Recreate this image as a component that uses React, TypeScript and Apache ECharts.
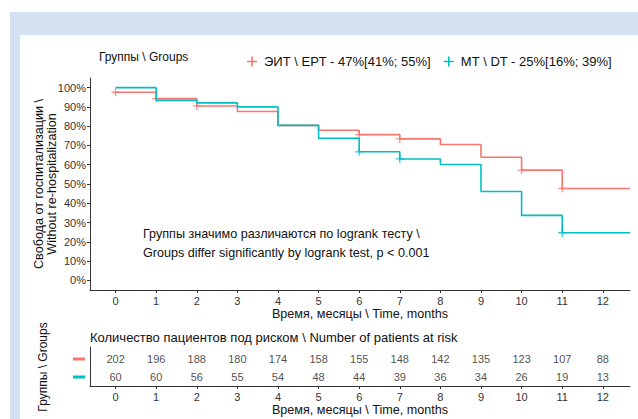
import React, { useEffect, useRef } from "react";
import * as echarts from "echarts";

const times = [0, 1, 2, 3, 4, 5, 6, 7, 8, 9, 10, 11, 12.67];
const eptSurv = [97.6, 94.3, 90.5, 87.6, 80.4, 77.9, 75.6, 73.4, 70.5, 63.9, 57.2, 47.7, 47.7];
const dtSurv = [100, 93.4, 92.1, 90.0, 80.4, 73.7, 66.7, 63.0, 60.1, 46.1, 33.7, 24.7, 24.7];
const eptCensorTimes = [0, 1, 2, 6, 7, 10, 11];
const dtCensorTimes = [6, 7, 11];
const riskTimes = [0, 1, 2, 3, 4, 5, 6, 7, 8, 9, 10, 11, 12];
const eptRisk = [202, 196, 188, 180, 174, 158, 155, 148, 142, 135, 123, 107, 88];
const dtRisk = [60, 60, 56, 55, 54, 48, 44, 39, 36, 34, 26, 19, 13];
const xTicks = [0, 1, 2, 3, 4, 5, 6, 7, 8, 9, 10, 11, 12];
const yTicks = [0, 10, 20, 30, 40, 50, 60, 70, 80, 90, 100];

const EPT_NAME = "ЭИТ \\ EPT - 47%[41%; 55%]";
const DT_NAME = "МТ \\ DT - 25%[16%; 39%]";
const RED = "#F8766D";
const TEAL = "#00BFC4";
const FONT = "'Liberation Sans', Arial, sans-serif";
const PLUS =
  "path://M-1,-0.16 L1,-0.16 L1,0.16 L-1,0.16 Z M-0.16,-1 L0.16,-1 L0.16,1 L-0.16,1 Z";

function censorPoints(ct: number[], surv: number[]) {
  return ct.map((t) => [t, surv[times.indexOf(t)]]);
}

export default function App() {
  const ref = useRef<HTMLDivElement>(null);
  useEffect(() => {
    if (!ref.current) return;
    const chart = echarts.init(ref.current, null, { renderer: "svg" });
    const axisLineStyle = { color: "#333", width: 1 };
    const xCommon = {
      type: "value",
      min: -0.63,
      max: 12.67,
      splitLine: { show: false },
      axisLine: { show: true, onZero: false, lineStyle: axisLineStyle },
      axisTick: { show: true, customValues: xTicks, length: 3, lineStyle: axisLineStyle },
      axisLabel: { customValues: xTicks, fontSize: 11, color: "#333", margin: 5, fontFamily: FONT },
    };
    const riskLabel = {
      show: true,
      position: "inside",
      formatter: (p: any) => String(p.value[2]),
      fontSize: 11,
      color: "#222",
      fontFamily: FONT,
    };
    chart.setOption({
      animation: false,
      textStyle: { fontFamily: FONT },
      graphic: [
        { type: "rect", z: -10, shape: { x: 10, y: 12, width: 628, height: 407 }, style: { fill: "#d4e1f2" } },
        { type: "rect", z: -9, shape: { x: 20, y: 35, width: 618, height: 384 }, style: { fill: "#ffffff" } },
        { type: "text", x: 99, y: 57, style: { text: "Группы \\ Groups", fontSize: 12, fontFamily: FONT, fill: "#111", verticalAlign: "middle" } },
        { type: "text", x: 143, y: 234, style: { text: "Группы значимо различаются по logrank тесту \\", fontSize: 12.6, fontFamily: FONT, fill: "#111", verticalAlign: "middle" } },
        { type: "text", x: 143, y: 252.5, style: { text: "Groups differ significantly by logrank test, p < 0.001", fontSize: 12.6, fontFamily: FONT, fill: "#111", verticalAlign: "middle" } },
        { type: "text", x: 39, y: 184, rotation: Math.PI / 2, style: { text: "Свобода от госпитализации \\", fontSize: 12.6, fontFamily: FONT, fill: "#111", align: "center", verticalAlign: "middle" } },
        { type: "text", x: 52, y: 184, rotation: Math.PI / 2, style: { text: "Without re-hospitalization", fontSize: 12.6, fontFamily: FONT, fill: "#111", align: "center", verticalAlign: "middle" } },
        { type: "text", x: 360, y: 314, style: { text: "Время, месяцы \\ Time, months", fontSize: 12.6, fontFamily: FONT, fill: "#111", align: "center", verticalAlign: "middle" } },
        { type: "text", x: 90, y: 337, style: { text: "Количество пациентов под риском \\ Number of patients at risk", fontSize: 13, fontFamily: FONT, fill: "#111", verticalAlign: "middle" } },
        { type: "text", x: 43, y: 367, rotation: Math.PI / 2, style: { text: "Группы \\ Groups", fontSize: 12, fontFamily: FONT, fill: "#111", align: "center", verticalAlign: "middle" } },
        { type: "text", x: 360, y: 410, style: { text: "Время, месяцы \\ Time, months", fontSize: 12.6, fontFamily: FONT, fill: "#111", align: "center", verticalAlign: "middle" } },
        { type: "rect", shape: { x: 73, y: 357.5, width: 12, height: 3 }, style: { fill: RED } },
        { type: "rect", shape: { x: 73, y: 375.5, width: 12, height: 3 }, style: { fill: TEAL } },
      ],
      legend: {
        top: 50,
        left: 242,
        itemWidth: 12,
        itemHeight: 10,
        itemGap: 13,
        icon: PLUS,
        data: [EPT_NAME, DT_NAME],
        textStyle: { fontSize: 13, color: "#111", fontFamily: FONT, padding: [0, 0, 0, 1] },
      },
      grid: [
        { left: 90, top: 78, width: 540, height: 212 },
        { left: 90, top: 347, width: 540, height: 39 },
      ],
      xAxis: [
        { ...xCommon, gridIndex: 0 },
        { ...xCommon, gridIndex: 1 },
      ],
      yAxis: [
        {
          type: "value",
          gridIndex: 0,
          min: -5,
          max: 105,
          splitLine: { show: false },
          axisLine: { show: true, onZero: false, lineStyle: axisLineStyle },
          axisTick: { show: true, customValues: yTicks, length: 3, lineStyle: axisLineStyle },
          axisLabel: { customValues: yTicks, formatter: "{value}%", fontSize: 11, color: "#333", margin: 4, fontFamily: FONT },
        },
        {
          type: "value",
          gridIndex: 1,
          min: 0.47,
          max: 2.68,
          splitLine: { show: false },
          axisLine: { show: true, onZero: false, lineStyle: axisLineStyle },
          axisTick: { show: false },
          axisLabel: { show: false },
        },
      ],
      series: [
        {
          name: EPT_NAME,
          type: "line",
          step: "end",
          xAxisIndex: 0,
          yAxisIndex: 0,
          showSymbol: false,
          symbol: "none",
          color: RED,
          lineStyle: { width: 1.6, color: RED },
          data: times.map((t, i) => [t, eptSurv[i]]),
        },
        {
          name: DT_NAME,
          type: "line",
          step: "end",
          xAxisIndex: 0,
          yAxisIndex: 0,
          showSymbol: false,
          symbol: "none",
          color: TEAL,
          lineStyle: { width: 1.6, color: TEAL },
          data: times.map((t, i) => [t, dtSurv[i]]),
        },
        {
          name: "eptCensor",
          type: "scatter",
          xAxisIndex: 0,
          yAxisIndex: 0,
          symbol: PLUS,
          symbolSize: 8,
          itemStyle: { color: RED },
          data: censorPoints(eptCensorTimes, eptSurv),
        },
        {
          name: "dtCensor",
          type: "scatter",
          xAxisIndex: 0,
          yAxisIndex: 0,
          symbol: PLUS,
          symbolSize: 8,
          itemStyle: { color: TEAL },
          data: censorPoints(dtCensorTimes, dtSurv),
        },
        {
          name: "eptRisk",
          type: "scatter",
          xAxisIndex: 1,
          yAxisIndex: 1,
          symbolSize: 1,
          itemStyle: { color: "rgba(0,0,0,0)" },
          label: riskLabel,
          data: riskTimes.map((t, i) => [t, 2, eptRisk[i]]),
        },
        {
          name: "dtRisk",
          type: "scatter",
          xAxisIndex: 1,
          yAxisIndex: 1,
          symbolSize: 1,
          itemStyle: { color: "rgba(0,0,0,0)" },
          label: riskLabel,
          data: riskTimes.map((t, i) => [t, 1, dtRisk[i]]),
        },
      ],
    });
    return () => chart.dispose();
  }, []);
  return <div ref={ref} style={{ position: "absolute", left: 0, top: 0, width: 638, height: 419 }} />;
}
